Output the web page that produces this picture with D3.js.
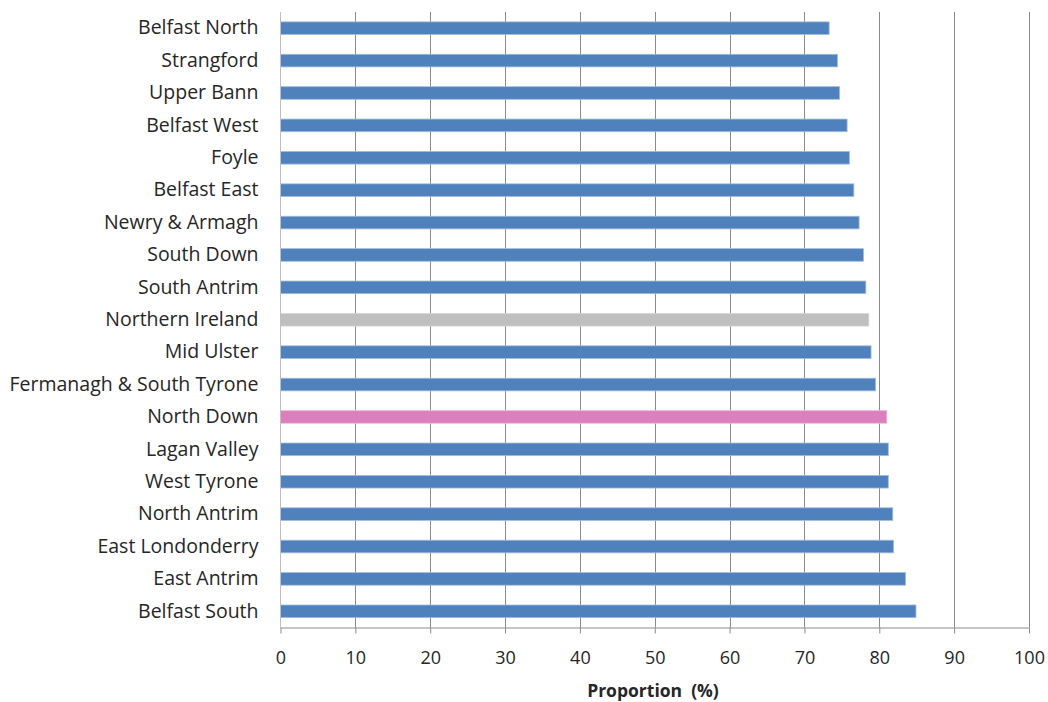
<!DOCTYPE html>
<html><head><meta charset="utf-8">
<script src="https://cdn.jsdelivr.net/npm/d3@7"></script>
<style>
html,body{margin:0;padding:0;background:#fff;}
text{font-family:"Open Sans",Lato,sans-serif;fill:#262626;}
</style></head>
<body><svg id="c" width="1048" height="702"></svg>
<script>
const categories = ["Belfast North","Strangford","Upper Bann","Belfast West","Foyle","Belfast East","Newry & Armagh","South Down","South Antrim","Northern Ireland","Mid Ulster","Fermanagh & South Tyrone","North Down","Lagan Valley","West Tyrone","North Antrim","East Londonderry","East Antrim","Belfast South"];
const values = [73.3,74.4,74.7,75.7,76.0,76.6,77.3,77.9,78.2,78.6,78.9,79.5,81.0,81.2,81.2,81.8,81.9,83.5,84.9];
const highlight = {"Northern Ireland":"grey","North Down":"pink"};
const xTicks = [0,10,20,30,40,50,60,70,80,90,100];
const xTitle = "Proportion  (%)";

const colors = {base:"#4F81BD", grey:"#BFBFBF", pink:"#DB80BD"};
const strokes = {base:"#A3BCDC", grey:"#D6D6D6", pink:"#F0B8DC"};
const FONT = "'Open Sans',Lato,sans-serif";

const svg = d3.select("#c");
const m = {left:280.5, right:1029, top:12, bottom:627.5};
const x = d3.scaleLinear().domain([0,100]).range([m.left, m.right]);
const y = d3.scaleBand().domain(categories).range([m.top, m.bottom]).paddingInner(0.61).paddingOuter(0.305);

// gridlines
svg.append("g").selectAll("line").data(xTicks.filter(d=>d>0)).join("line")
  .attr("x1", d=>Math.round(x(d))+0.5).attr("x2", d=>Math.round(x(d))+0.5)
  .attr("y1", m.top).attr("y2", m.bottom)
  .attr("stroke","#8C8C8C").attr("stroke-width",1);

// bars
svg.append("g").selectAll("rect").data(categories).join("rect")
  .attr("x", x(0))
  .attr("y", d=>y(d))
  .attr("width", (d,i)=>x(values[i])-x(0))
  .attr("height", y.bandwidth())
  .attr("fill", d=>colors[highlight[d]||"base"])
  .attr("stroke", d=>strokes[highlight[d]||"base"])
  .attr("stroke-width",0.8);

// x axis
const xAxis = d3.axisBottom(x).tickValues(xTicks).tickSize(6).tickPadding(18).tickFormat(d3.format("d"));
const gx = svg.append("g").attr("transform",`translate(0,${m.bottom})`).call(xAxis);
gx.select(".domain").attr("stroke","#8C8C8C").attr("d",`M${m.left},0.5H${m.right}`);
gx.selectAll(".tick line").attr("stroke","#8C8C8C");
gx.selectAll(".tick text").attr("font-size","18px").attr("font-family",FONT).attr("fill","#262626");

// y axis
const yAxis = d3.axisLeft(y).tickSize(0).tickPadding(22);
const gy = svg.append("g").attr("transform",`translate(${m.left},0)`).call(yAxis);
gy.select(".domain").attr("stroke","#BFBFBF").attr("d",`M0,${m.top}V${m.bottom}`);
gy.selectAll(".tick text").attr("font-size","19.5px").attr("font-family",FONT).attr("fill","#262626");

svg.append("text").attr("x",653).attr("y",697).attr("text-anchor","middle")
  .style("white-space","pre")
  .attr("font-size","17.5px").attr("font-weight","bold").attr("font-family",FONT).text(xTitle);
</script></body></html>
